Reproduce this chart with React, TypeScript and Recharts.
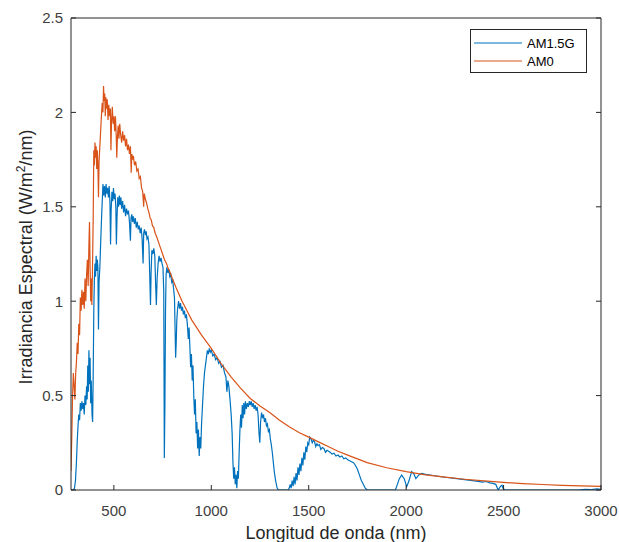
import { LineChart, Line, XAxis, YAxis, Legend } from "recharts";

// AM1.5G global tilt spectrum
const am15Wl = [
  280, 292, 298, 303, 308, 312, 316, 320, 324, 328, 332, 336, 340, 344, 348, 352, 356, 360, 363, 366,
  369, 372, 375, 378, 381, 384, 388, 391, 394, 397, 400, 403, 406, 409, 412, 415, 418, 421, 424, 428,
  432, 436, 440, 444, 448, 452, 456, 460, 464, 468, 472, 476, 480, 483, 486, 490, 494, 498, 502, 506,
  510, 513, 516, 520, 524, 528, 532, 536, 540, 545, 550, 555, 560, 565, 570, 575, 580, 585, 588, 592,
  596, 600, 605, 610, 615, 620, 625, 630, 635, 640, 645, 650, 653, 657, 662, 666, 670, 675, 680, 685,
  688, 691, 695, 700, 705, 710, 714, 718, 722, 727, 732, 737, 742, 747, 752, 756, 759, 762, 765, 768,
  772, 777, 782, 787, 792, 797, 802, 807, 811, 814, 817, 820, 823, 827, 832, 837, 842, 847, 852, 857,
  862, 867, 872, 877, 882, 886, 890, 894, 898, 902, 906, 910, 914, 918, 922, 926, 930, 934, 938, 942,
  946, 950, 955, 960, 965, 970, 975, 980, 985, 990, 995, 1000, 1008, 1015, 1022, 1030, 1038, 1045, 1052, 1060,
  1068, 1075, 1080, 1085, 1090, 1096, 1102, 1107, 1111, 1115, 1119, 1123, 1127, 1131, 1135, 1139, 1143, 1147, 1151, 1155,
  1159, 1163, 1167, 1171, 1175, 1180, 1185, 1190, 1195, 1200, 1205, 1210, 1215, 1220, 1225, 1230, 1235, 1240, 1245, 1249,
  1253, 1258, 1263, 1268, 1273, 1278, 1283, 1288, 1293, 1298, 1303, 1308, 1313, 1318, 1323, 1330, 1338, 1345, 1395, 1400,
  1405, 1410, 1415, 1420, 1425, 1430, 1435, 1440, 1445, 1450, 1455, 1460, 1465, 1470, 1475, 1480, 1485, 1490, 1495, 1500,
  1505, 1512, 1518, 1524, 1530, 1536, 1542, 1548, 1555, 1562, 1570, 1578, 1586, 1594, 1602, 1610, 1620, 1630, 1640, 1650,
  1660, 1670, 1680, 1690, 1700, 1710, 1720, 1730, 1740, 1750, 1760, 1770, 1780, 1790, 1800, 1945, 1955, 1965, 1977, 1990,
  2003, 2015, 2028, 2040, 2050, 2065, 2080, 2100, 2130, 2160, 2190, 2220, 2250, 2280, 2310, 2340, 2370, 2390, 2410, 2430,
  2446, 2460, 2472, 2485, 2492, 2497, 2505, 2880, 2920, 2950, 2980, 3000,
];
const am15Val = [
  0, 0, 0.01, 0.05, 0.15, 0.26, 0.34, 0.4, 0.37, 0.46, 0.42, 0.47, 0.43, 0.46, 0.4, 0.5, 0.45, 0.55, 0.48, 0.66,
  0.52, 0.74, 0.56, 0.7, 0.46, 0.58, 0.4, 0.36, 0.62, 0.95, 1.12, 1.2, 1.13, 1.24, 1.16, 1.22, 1.18, 0.85, 1.1, 1.18,
  1.3, 1.42, 1.52, 1.62, 1.56, 1.61, 1.55, 1.62, 1.57, 1.6, 1.55, 1.61, 1.52, 1.3, 1.48, 1.58, 1.53, 1.6, 1.54, 1.57,
  1.5, 1.3, 1.44, 1.55, 1.5, 1.56, 1.51, 1.55, 1.49, 1.53, 1.47, 1.51, 1.45, 1.49, 1.46, 1.48, 1.42, 1.32, 1.44, 1.46,
  1.42, 1.45, 1.41, 1.44, 1.39, 1.42, 1.38, 1.4, 1.36, 1.39, 1.33, 1.2, 1.36, 1.38, 1.35, 1.37, 1.33, 1.34, 1.3, 1.1,
  0.98, 1.15, 1.27, 1.25, 1.28, 1.24, 1.1, 0.98, 1.12, 1.2, 1.24, 1.21, 1.23, 1.2, 1.18, 1.05, 0.17, 0.45, 0.95, 1.14,
  1.18, 1.15, 1.17, 1.13, 1.14, 1.1, 1.11, 1.06, 1.02, 0.86, 0.7, 0.78, 0.9, 0.96, 1.0, 0.96, 0.99, 0.95, 0.97, 0.93,
  0.95, 0.91, 0.93, 0.88, 0.8, 0.86, 0.76, 0.65, 0.72, 0.58, 0.66, 0.5, 0.4, 0.48, 0.3, 0.36, 0.22, 0.32, 0.18, 0.28,
  0.22, 0.35, 0.45, 0.55, 0.62, 0.66, 0.7, 0.74, 0.72, 0.75, 0.73, 0.74, 0.71, 0.72, 0.69, 0.7, 0.67, 0.68, 0.65, 0.66,
  0.62, 0.6, 0.52, 0.58, 0.55, 0.48, 0.4, 0.3, 0.15, 0.06, 0.12, 0.03, 0.08, 0.01, 0.1, 0.06, 0.2, 0.32, 0.4, 0.33,
  0.45, 0.38, 0.46, 0.4, 0.47, 0.43, 0.46, 0.44, 0.47, 0.45, 0.47, 0.44, 0.46, 0.43, 0.45, 0.42, 0.44, 0.4, 0.3, 0.25,
  0.36, 0.41, 0.38, 0.4, 0.36, 0.38, 0.34, 0.35, 0.31, 0.32, 0.27, 0.24, 0.2, 0.15, 0.1, 0.05, 0.01, 0, 0, 0.01,
  0.03, 0.01, 0.05, 0.02, 0.07, 0.03, 0.09, 0.05, 0.12, 0.08, 0.14, 0.1, 0.17, 0.13, 0.2, 0.16, 0.23, 0.2, 0.25, 0.24,
  0.28, 0.27, 0.25, 0.265, 0.255, 0.23, 0.245, 0.235, 0.24, 0.215, 0.225, 0.22, 0.2, 0.21, 0.205, 0.2, 0.19, 0.195, 0.18, 0.185,
  0.175, 0.18, 0.165, 0.17, 0.16, 0.155, 0.15, 0.145, 0.13, 0.11, 0.08, 0.05, 0.03, 0.01, 0, 0, 0.03, 0.06, 0.079, 0.06,
  0.018, 0.05, 0.097, 0.085, 0.06, 0.08, 0.088, 0.083, 0.078, 0.073, 0.069, 0.065, 0.062, 0.058, 0.054, 0.05, 0.046, 0.042, 0.045, 0.038,
  0.035, 0.03, 0, 0.02, 0.025, 0.01, 0, 0, 0.004, 0.002, 0.006, 0.004,
];

// AM0 extraterrestrial spectrum
const am0Wl = [
  280, 284, 288, 292, 296, 300, 304, 308, 312, 316, 320, 324, 328, 332, 336, 340, 344, 348, 352, 356,
  360, 364, 368, 372, 375, 378, 381, 384, 387, 390, 394, 397, 400, 403, 406, 409, 412, 415, 418, 421,
  424, 428, 432, 436, 440, 444, 447, 450, 453, 456, 459, 462, 466, 470, 474, 478, 482, 485, 488, 492,
  496, 500, 504, 508, 512, 515, 518, 522, 526, 530, 535, 540, 545, 550, 555, 560, 565, 570, 575, 580,
  585, 589, 592, 596, 600, 606, 612, 618, 624, 630, 636, 642, 648, 653, 656, 662, 668, 674, 680, 686,
  692, 698, 705, 712, 720, 730, 740, 750, 760, 770, 780, 790, 800, 820, 850, 880, 900, 950, 1000, 1050,
  1100, 1150, 1200, 1250, 1300, 1350, 1400, 1450, 1500, 1550, 1600, 1650, 1700, 1750, 1800, 1900, 2000, 2100,
  2200, 2300, 2400, 2500, 2600, 2700, 2800, 2900, 3000,
];
const am0Val = [
  0.1, 0.28, 0.5, 0.62, 0.55, 0.48, 0.62, 0.68, 0.78, 0.72, 0.88, 0.82, 1.02, 0.95, 1.06, 0.98, 1.05, 0.96, 1.12, 1.0,
  1.14, 1.22, 1.08, 1.3, 1.42, 1.18, 1.0, 1.12, 0.98, 1.15, 1.45, 1.8, 1.72, 1.84, 1.76, 1.82, 1.7, 1.8, 1.72, 1.55,
  1.74, 1.82, 1.9, 1.98, 2.05, 2.0, 2.14, 2.06, 2.1, 1.98, 2.08, 2.02, 2.07, 1.96, 2.04, 1.98, 2.02, 1.8, 1.95, 2.03,
  1.94, 1.98, 1.9, 1.98, 1.88, 1.76, 1.86, 1.93, 1.86, 1.94, 1.88, 1.84, 1.9, 1.85, 1.88, 1.82, 1.86, 1.8, 1.83, 1.78,
  1.82, 1.68, 1.78, 1.75, 1.77, 1.72, 1.74, 1.69, 1.7, 1.65, 1.66, 1.6, 1.58, 1.5, 1.57, 1.54, 1.52, 1.49, 1.47, 1.44,
  1.43, 1.4, 1.39, 1.36, 1.34, 1.31, 1.28, 1.25, 1.22, 1.2, 1.17, 1.15, 1.12, 1.07, 1.0, 0.94, 0.9, 0.82, 0.75, 0.67,
  0.6, 0.54, 0.485, 0.445, 0.41, 0.37, 0.335, 0.305, 0.28, 0.255, 0.23, 0.205, 0.185, 0.165, 0.145, 0.118, 0.097, 0.08,
  0.068, 0.057, 0.048, 0.04, 0.034, 0.029, 0.025, 0.022, 0.019,
];

const xTicks = [500, 1000, 1500, 2000, 2500, 3000];
const yTicks = [0, 0.5, 1, 1.5, 2, 2.5];
const seriesNames = ["AM1.5G", "AM0"];
const COLORS = ["#0072BD", "#D95319"];

const am15Data = am15Wl.map((w, i) => ({ w, v: am15Val[i] }));
const am0Data = am0Wl.map((w, i) => ({ w, v: am0Val[i] }));

const FONT = "'Liberation Sans', Arial, Helvetica, sans-serif";
const AXIS = "#262626";
const tickStyle = { fill: "#404040", fontSize: 15, fontFamily: FONT };

function LegendBox() {
  return (
    <div
      style={{
        width: 115,
        height: 42,
        border: `1px solid ${AXIS}`,
        background: "#fff",
        fontFamily: FONT,
        fontSize: 13,
        color: "#000",
        boxSizing: "content-box",
      }}
    >
      {seriesNames.map((name, i) => (
        <div key={name} style={{ display: "flex", alignItems: "center", height: 18, marginTop: i === 0 ? 4 : 0 }}>
          <svg width={56} height={18}>
            <line x1={3} x2={51} y1={9} y2={9} stroke={COLORS[i]} strokeWidth={1.2} />
          </svg>
          <span>{name}</span>
        </div>
      ))}
    </div>
  );
}

function YLabel({ viewBox }: any) {
  const cx = viewBox.x + 32;
  const cy = viewBox.y + viewBox.height / 2 + 3;
  return (
    <text
      x={cx}
      y={cy}
      transform={`rotate(-90 ${cx} ${cy})`}
      textAnchor="middle"
      fill={AXIS}
      fontSize={18}
      fontFamily={FONT}
    >
      <tspan>Irradiancia Espectral (W/m</tspan>
      <tspan fontSize={12} dy={-7}>2</tspan>
      <tspan dy={7}>/nm)</tspan>
    </text>
  );
}

export default function App() {
  return (
    <div style={{ position: "absolute", left: 0, top: 0, background: "#fff" }}>
      <LineChart width={619} height={542} margin={{ top: 0, right: 0, bottom: 0, left: 0 }}>
        <XAxis
          dataKey="w"
          type="number"
          domain={[280, 3000]}
          ticks={xTicks}
          allowDataOverflow
          height={52}
          stroke={AXIS}
          tickSize={-5}
          tickMargin={20}
          tick={tickStyle}
          label={{ value: "Longitud de onda (nm)", position: "insideBottom", offset: 3, fill: AXIS, fontSize: 18, fontFamily: FONT }}
        />
        <XAxis
          xAxisId="top"
          orientation="top"
          type="number"
          domain={[280, 3000]}
          ticks={xTicks}
          allowDataOverflow
          height={18}
          stroke={AXIS}
          tickSize={-5}
          tickFormatter={() => ""}
        />
        <YAxis
          type="number"
          domain={[0, 2.5]}
          ticks={yTicks}
          allowDataOverflow
          width={71}
          stroke={AXIS}
          tickSize={-5}
          tickMargin={13}
          tick={tickStyle}
          label={<YLabel />}
        />
        <YAxis
          yAxisId="right"
          orientation="right"
          type="number"
          domain={[0, 2.5]}
          ticks={yTicks}
          allowDataOverflow
          width={18}
          stroke={AXIS}
          tickSize={-5}
          tickFormatter={() => ""}
        />
        <Legend
          layout="horizontal"
          align="center"
          verticalAlign="middle"
          wrapperStyle={{ top: 29, left: 470, width: 117 }}
          content={() => <LegendBox />}
        />
        <Line
          data={am15Data}
          dataKey="v"
          name={seriesNames[0]}
          stroke={COLORS[0]}
          strokeWidth={1.2}
          dot={false}
          type="linear"
          isAnimationActive={false}
        />
        <Line
          data={am0Data}
          dataKey="v"
          name={seriesNames[1]}
          stroke={COLORS[1]}
          strokeWidth={1.2}
          dot={false}
          type="linear"
          isAnimationActive={false}
        />
      </LineChart>
    </div>
  );
}
